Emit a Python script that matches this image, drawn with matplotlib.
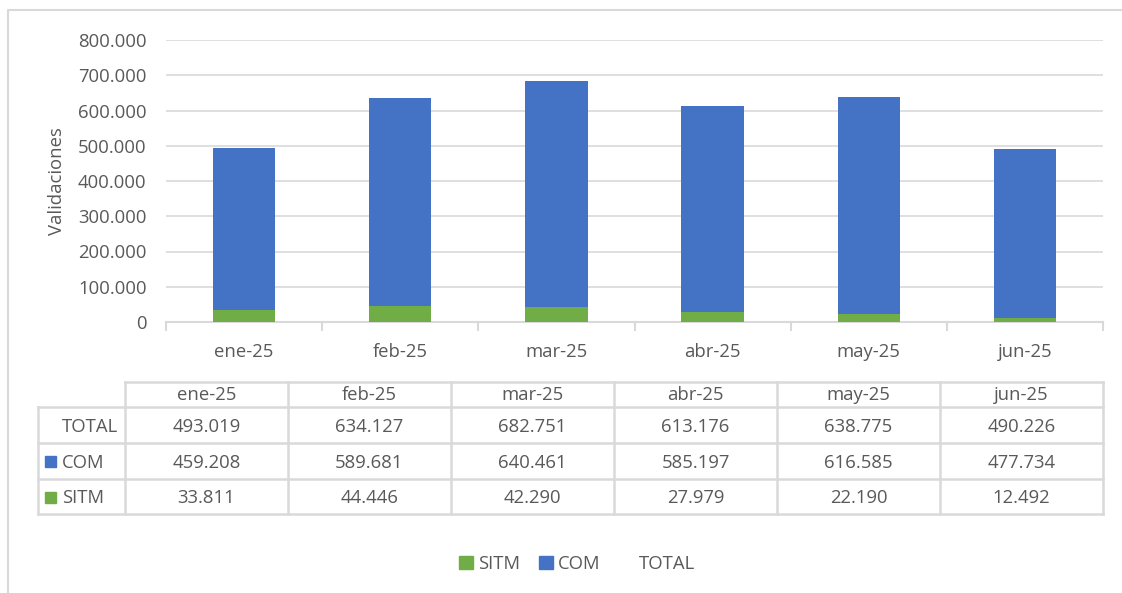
import matplotlib
matplotlib.use('Agg')
import matplotlib.pyplot as plt
from matplotlib.patches import Patch, Rectangle
import numpy as np

#
# Datos
#
meses = ['ene-25', 'feb-25', 'mar-25', 'abr-25', 'may-25', 'jun-25']
com = [459208, 589681, 640461, 585197, 616585, 477734]
sitm = [33811, 44446, 42290, 27979, 22190, 12492]
total = [493019, 634127, 682751, 613176, 638775, 490226]
yticks = [0, 100000, 200000, 300000, 400000, 500000, 600000, 700000, 800000]

azul = '#4472C4'
verde = '#70AD47'
gris = '#595959'
linea = '#D9D9D9'

plt.rcParams['font.family'] = ['Open Sans', 'DejaVu Sans']

def fmt(v):
    return '{:,}'.format(v).replace(',', '.')

W, H = 1122, 593
fs = 13.3
fig = plt.figure(figsize=(W / 100, H / 100), dpi=100)

#
# Ejes del grafico (coordenadas en pixeles de la figura)
#
x0, x1, ytop, ybot = 166, 1103, 40, 322
ax = fig.add_axes([x0 / W, 1 - ybot / H, (x1 - x0) / W, (ybot - ytop) / H])
x = np.arange(len(meses))
b1 = ax.bar(x, sitm, width=0.4, color=verde, zorder=3)
b2 = ax.bar(x, com, width=0.4, bottom=sitm, color=azul, zorder=3)
ax.set_xlim(-0.5, len(meses) - 0.5)
ax.set_ylim(0, 800000)
ax.set_yticks(yticks)
ax.set_yticklabels([fmt(v) if v else '0' for v in yticks])
ax.set_xticks(x)
ax.set_xticklabels(meses)
ax.yaxis.grid(True, color=linea, lw=1.2, zorder=0)
for s in ['top', 'right', 'left']:
    ax.spines[s].set_visible(False)
ax.spines['bottom'].set_color(linea)
ax.spines['bottom'].set_linewidth(1.5)
ax.tick_params(axis='y', length=0, pad=14, labelsize=fs, labelcolor=gris)
ax.tick_params(axis='x', length=0, pad=15, labelsize=fs, labelcolor=gris)
# marcas entre categorias
for k in range(len(meses) + 1):
    ax.plot([k - 0.5, k - 0.5], [0, -22000], color=linea, lw=1.5, clip_on=False)
ax.set_ylabel('Validaciones', fontsize=fs, color=gris)
ax.yaxis.set_label_coords(-0.107, 0.5)

#
# Tabla de datos y borde (capa en pixeles)
#
ov = fig.add_axes([0, 0, 1, 1], facecolor='none')
ov.set_xlim(0, W)
ov.set_ylim(H, 0)
ov.axis('off')

ov.plot([8, 8, W], [H, 10, 10], color=linea, lw=1.5)

tx0, tlab, cw = 125, 38, 163
rows_y = [382, 407, 443, 479, 514]
tx1 = tx0 + cw * len(meses)
lw = 1.8
# lineas horizontales
ov.plot([tx0, tx1], [rows_y[0], rows_y[0]], color=linea, lw=lw)
for yy in rows_y[1:]:
    ov.plot([tlab, tx1], [yy, yy], color=linea, lw=lw)
# lineas verticales
ov.plot([tlab, tlab], [rows_y[1], rows_y[-1]], color=linea, lw=lw)
for k in range(len(meses) + 1):
    ov.plot([tx0 + k * cw] * 2, [rows_y[0], rows_y[-1]], color=linea, lw=lw)

for k, m in enumerate(meses):
    cx = tx0 + (k + 0.5) * cw
    ov.text(cx, (rows_y[0] + rows_y[1]) / 2 + 1, m, ha='center', va='center', fontsize=fs, color=gris)
series = [('TOTAL', total, None), ('COM', com, azul), ('SITM', sitm, verde)]
for r, (nombre, vals, col) in enumerate(series):
    cy = (rows_y[r + 1] + rows_y[r + 2]) / 2 + 1.5
    ov.text(62, cy, nombre, ha='left', va='center', fontsize=fs, color=gris)
    if col:
        ov.add_patch(Rectangle((45, cy - 6.5), 11, 11, color=col))
    for k, v in enumerate(vals):
        cx = tx0 + (k + 0.5) * cw
        ov.text(cx, cy, fmt(v), ha='center', va='center', fontsize=fs, color=gris)

#
# Leyenda
#
handles = [Patch(color=verde), Patch(color=azul), Patch(color='none')]
leg = fig.legend(handles, ['SITM', 'COM', 'TOTAL'], loc='center',
                 bbox_to_anchor=(577 / W, 1 - 564 / H), ncol=3, frameon=False,
                 fontsize=fs, handlelength=0.75, handleheight=0.75,
                 handletextpad=0.3, columnspacing=1.0)
for t in leg.get_texts():
    t.set_color(gris)

fig.savefig('out.png', dpi=100)
